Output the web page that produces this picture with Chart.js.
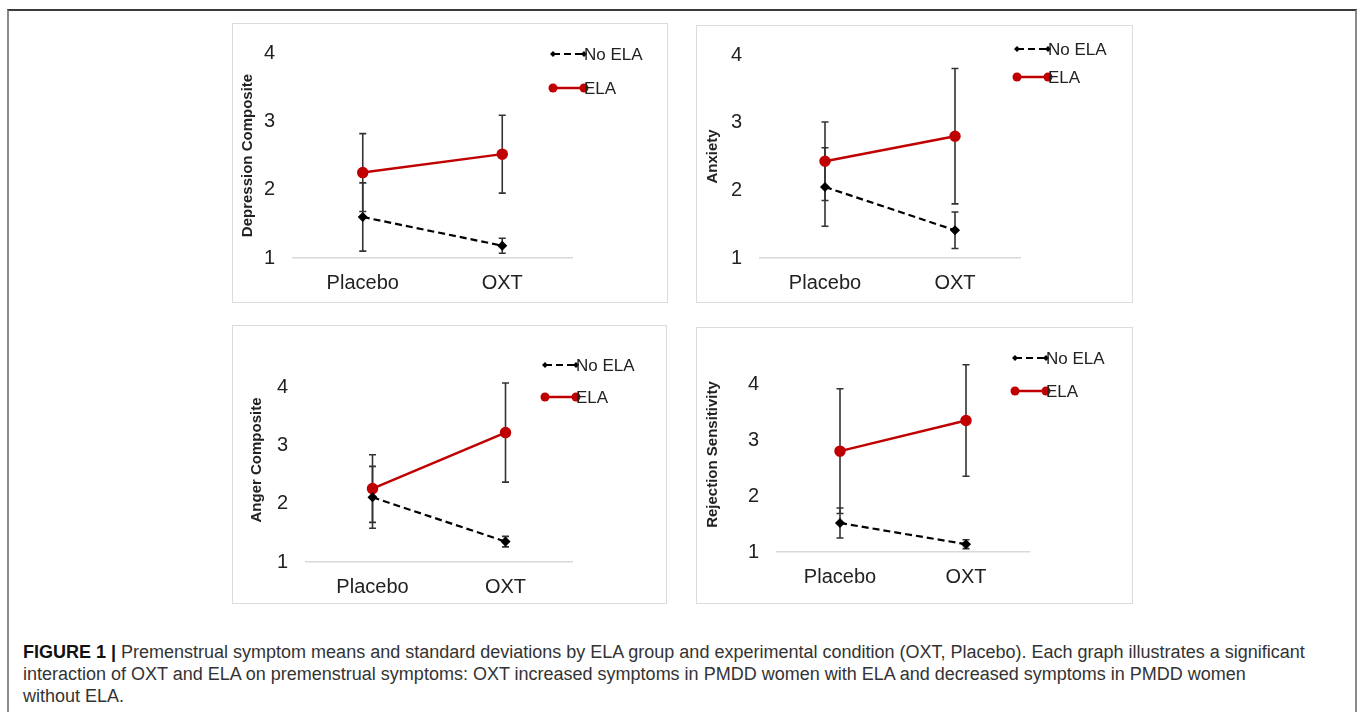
<!DOCTYPE html>
<html>
<head>
<meta charset="utf-8">
<script src="https://cdn.jsdelivr.net/npm/chart.js@4.4.1/dist/chart.umd.min.js"></script>
<style>
  body { margin: 0; background: #fff; font-family: "Liberation Sans", Arial, sans-serif; }
  #page { position: relative; width: 1357px; height: 712px; overflow: hidden; }
  #frame { position: absolute; left: 7px; top: 9px; width: 1346px; height: 720px;
           border-top: 2px solid #3a3a3a; border-left: 2px solid #8a8a8a; border-right: 2px solid #8a8a8a; }
  .panel { position: absolute; border: 1px solid #dcdcdc; box-sizing: border-box; }
  .panel canvas { position: absolute; left: -1px; top: -1px; }
  #caption { position: absolute; left: 23px; top: 641px; font-size: 18px; line-height: 22px;
             color: #333; white-space: nowrap; }
  #caption b { color: #111; }
</style>
</head>
<body>
<div id="page">
  <div id="frame"></div>
  <div class="panel" id="p1"><canvas id="c1"></canvas></div>
  <div class="panel" id="p2"><canvas id="c2"></canvas></div>
  <div class="panel" id="p3"><canvas id="c3"></canvas></div>
  <div class="panel" id="p4"><canvas id="c4"></canvas></div>
  <div id="caption">
    <b>FIGURE 1 |</b> Premenstrual symptom means and standard deviations by ELA group and experimental condition (OXT, Placebo). Each graph illustrates a significant<br>
    interaction of OXT and ELA on premenstrual symptoms: OXT increased symptoms in PMDD women with ELA and decreased symptoms in PMDD women<br>
    without ELA.
  </div>
</div>
<script>
// data
const categories = ['Placebo', 'OXT'];
const seriesNames = ['No ELA', 'ELA'];
const yTicks = [1, 2, 3, 4];

const depNoEla = [1.60, 1.18];
const depNoElaSd = [0.50, 0.11];
const depEla = [2.25, 2.52];
const depElaSd = [0.57, 0.57];

const anxNoEla = [2.05, 1.41];
const anxNoElaSd = [0.58, 0.27];
const anxEla = [2.43, 2.80];
const anxElaSd = [0.58, 1.00];

const angNoEla = [2.11, 1.35];
const angNoElaSd = [0.53, 0.09];
const angEla = [2.26, 3.22];
const angElaSd = [0.58, 0.85];

const rejNoEla = [1.52, 1.14];
const rejNoElaSd = [0.27, 0.08];
const rejEla = [2.81, 3.36];
const rejElaSd = [1.12, 1.00];

// panel layout (page pixels)
const panels = [
  { id: 'c1', box: [232, 23, 436, 280], area: [293, 572, 43, 258], yMax: 4, title: 'Depression Composite',
    noEla: depNoEla, noElaSd: depNoElaSd, ela: depEla, elaSd: depElaSd, legend: [553, 54, 88], titlePad: 7 },
  { id: 'c2', box: [696, 25, 437, 278], area: [760, 1020, 45, 258], yMax: 4, title: 'Anxiety',
    noEla: anxNoEla, noElaSd: anxNoElaSd, ela: anxEla, elaSd: anxElaSd, legend: [1017, 49, 77], titlePad: 8 },
  { id: 'c3', box: [232, 325, 435, 279], area: [306, 572, 358, 562], yMax: 4.5, title: 'Anger Composite',
    noEla: angNoEla, noElaSd: angNoElaSd, ela: angEla, elaSd: angElaSd, legend: [545, 365, 397], titlePad: 16 },
  { id: 'c4', box: [696, 327, 437, 277], area: [777, 1029, 344, 552], yMax: 4.5, title: 'Rejection Sensitivity',
    noEla: rejNoEla, noElaSd: rejNoElaSd, ela: rejEla, elaSd: rejElaSd, legend: [1015, 358, 391], titlePad: 8 }
];

const RED = '#c00000';
const INK = '#222222';

// error bars, drawn under the lines
const errorBars = {
  id: 'errorBars',
  beforeDatasetsDraw(chart) {
    const { ctx, scales: { x, y } } = chart;
    ctx.save();
    ctx.strokeStyle = '#333';
    ctx.lineWidth = 1.6;
    chart.data.datasets.forEach(ds => {
      ds.data.forEach((v, i) => {
        const px = x.getPixelForValue(i);
        const top = y.getPixelForValue(v + ds.sd[i]);
        const bot = y.getPixelForValue(v - ds.sd[i]);
        ctx.beginPath();
        ctx.moveTo(px, top); ctx.lineTo(px, bot);
        ctx.moveTo(px - 3.5, top); ctx.lineTo(px + 3.5, top);
        ctx.moveTo(px - 3.5, bot); ctx.lineTo(px + 3.5, bot);
        ctx.stroke();
      });
    });
    ctx.restore();
  }
};

// Excel style legend: line with a marker at each end
const lineLegend = {
  id: 'lineLegend',
  afterDraw(chart, args, opts) {
    const { ctx } = chart;
    const [lx, y1, y2] = opts.pos;
    const x0 = lx - opts.box[0], w = 31;
    ctx.save();
    ctx.font = '17px "Liberation Sans", Arial, sans-serif';
    ctx.textBaseline = 'middle';
    chart.data.datasets.forEach((ds, k) => {
      const yy = (k === 0 ? y1 : y2) - opts.box[1];
      ctx.strokeStyle = ds.borderColor;
      ctx.lineWidth = ds.borderWidth;
      ctx.setLineDash(ds.borderDash || []);
      ctx.beginPath(); ctx.moveTo(x0, yy); ctx.lineTo(x0 + w, yy); ctx.stroke();
      ctx.setLineDash([]);
      ctx.fillStyle = ds.borderColor;
      [x0, x0 + w].forEach(mx => {
        ctx.beginPath();
        if (ds.pointStyle === 'rectRot') {
          const r = 3;
          ctx.moveTo(mx, yy - r); ctx.lineTo(mx + r, yy); ctx.lineTo(mx, yy + r); ctx.lineTo(mx - r, yy);
          ctx.closePath();
        } else {
          ctx.arc(mx, yy, 4.5, 0, Math.PI * 2);
        }
        ctx.fill();
      });
      ctx.fillStyle = INK;
      ctx.fillText(ds.label, x0 + w, yy + 1);
    });
    ctx.restore();
  }
};

panels.forEach(p => {
  const [bx, by, bw, bh] = p.box;
  const [aL, aR, aT, aB] = p.area;
  const canvas = document.getElementById(p.id);
  const wrap = canvas.parentElement;
  wrap.style.left = bx + 'px'; wrap.style.top = by + 'px';
  wrap.style.width = bw + 'px'; wrap.style.height = bh + 'px';
  canvas.width = bw; canvas.height = bh;

  new Chart(canvas.getContext('2d'), {
    type: 'line',
    data: {
      labels: categories,
      datasets: [
        { label: seriesNames[0], data: p.noEla, sd: p.noElaSd, borderColor: '#000', backgroundColor: '#000',
          borderWidth: 2.2, borderDash: [7, 4], pointStyle: 'rectRot', pointRadius: 3.5, tension: 0 },
        { label: seriesNames[1], data: p.ela, sd: p.elaSd, borderColor: RED, backgroundColor: RED,
          borderWidth: 2.5, pointStyle: 'circle', pointRadius: 4.5, tension: 0 }
      ]
    },
    options: {
      responsive: false,
      animation: false,
      layout: { padding: { left: 0, top: aT - by, right: bw - (aR - bx), bottom: 0 } },
      plugins: {
        legend: { display: false },
        tooltip: { enabled: false },
        lineLegend: { pos: p.legend, box: p.box }
      },
      scales: {
        x: {
          offset: true,
          grid: { display: false, drawTicks: false },
          border: { display: true, color: '#d9d9d9', width: 1.5 },
          ticks: { color: INK, padding: 13, font: { size: 20, family: '"Liberation Sans", Arial, sans-serif' } },
          afterFit: s => { s.height = by + bh - aB; }
        },
        y: {
          min: 1,
          max: p.yMax,
          grid: { display: false, drawTicks: false },
          border: { display: false },
          afterBuildTicks: s => { s.ticks = yTicks.map(v => ({ value: v })); },
          ticks: { color: INK, padding: 18, font: { size: 20, family: '"Liberation Sans", Arial, sans-serif' } },
          title: { display: true, text: p.title, color: INK, padding: { top: p.titlePad, bottom: 0 },
                   font: { size: 15, weight: 'bold', family: '"Liberation Sans", Arial, sans-serif' } },
          afterFit: s => { s.width = aL - bx; }
        }
      }
    },
    plugins: [errorBars, lineLegend]
  });
});
</script>
</body>
</html>
